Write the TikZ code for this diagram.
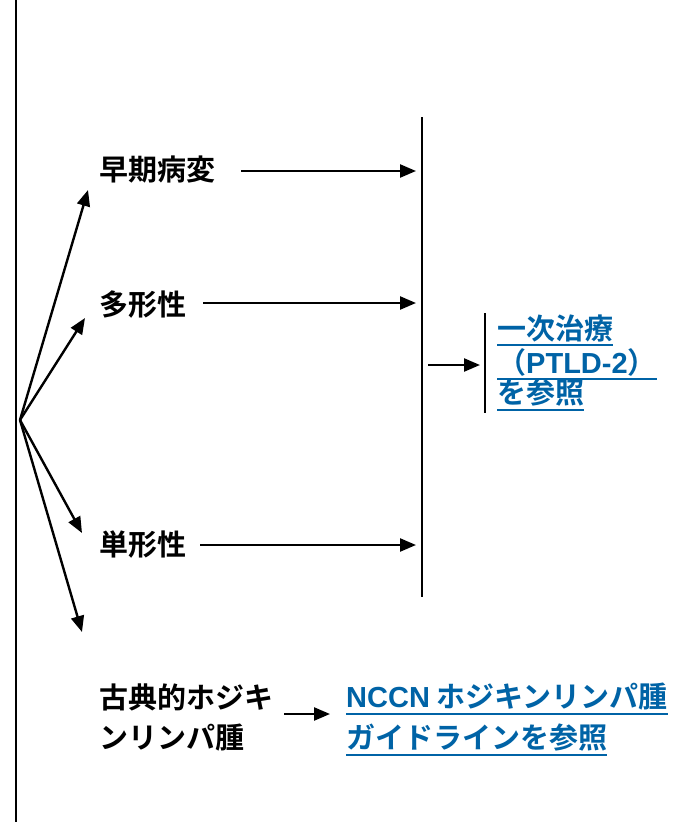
\documentclass[tikz,border=0pt]{standalone}
\usepackage{fontspec}
\setmainfont{Liberation Sans}
\newfontfamily\jp{Noto Sans CJK JP}[BoldFont=* Bold]
\usetikzlibrary{arrows.meta}
\definecolor{linkblue}{RGB}{0,99,166}
\begin{document}
\begin{tikzpicture}[x=1pt,y=-1pt,
  lbl/.style={font=\jp\bfseries\fontsize{29}{32}\selectfont, anchor=west, inner sep=0pt},
  lnk/.style={lbl, text=linkblue},
  arr/.style={-{Triangle[length=16pt,width=13pt]}, line width=2.4pt},
  rule/.style={line width=2.4pt},
  ul/.style={linkblue, line width=2.2pt}]
\useasboundingbox (0,0) rectangle (692,825);
% main vertical line
\coordinate (Ltop) at (16,0);
\coordinate (Lbot) at (16,822);
\draw[rule] (Ltop) -- (Lbot);
% fan origin
\coordinate (O) at (20,420);
% labels
\node[lbl] (early) at (99,170) {早期病変};
\node[lbl] (poly) at (99,305) {多形性};
\node[lbl] (mono) at (99,545) {単形性};
\node[lbl] (chl1) at (99,697) {古典的ホジキ};
\node[lbl] (chl2) at (99,738) {ンリンパ腫};
% fan arrows ends
\coordinate (fe) at (88,190);
\coordinate (fp) at (85,318);
\coordinate (fm) at (82,533);
\coordinate (fc) at (82,632);
\draw[arr] (O) -- (fe);
\draw[arr] (O) -- (fp);
\draw[arr] (O) -- (fm);
\draw[arr] (O) -- (fc);
% collecting bar
\coordinate (Vt) at (422,117);
\coordinate (Vb) at (422,597);
\draw[rule] (Vt) -- (Vb);
\coordinate (ee) at (241,171);
\coordinate (pe) at (203,303);
\coordinate (me) at (200,545);
\draw[arr, shorten >=6pt] (ee) -- (ee -| Vt);
\draw[arr, shorten >=6pt] (pe) -- (pe -| Vt);
\draw[arr, shorten >=6pt] (me) -- (me -| Vt);
% right bracket and link
\coordinate (Bt) at (485,313);
\coordinate (Bb) at (485,413);
\draw[rule] (Bt) -- (Bb);
\coordinate (ms) at (428,365);
\draw[arr, shorten >=5pt] (ms) -- (ms -| Bt);
\node[lnk] (t1) at (497,328) {一次治療};
\node[lnk] (t2) at (497,362) {（{\rmfamily\bfseries PTLD-2}）};
\node[lnk] (t3) at (497,393) {を参照};
\foreach \n in {t1,t2,t3}{
  \draw[ul] ([yshift=-3pt]\n.south west) -- ([yshift=-3pt]\n.south east);
}
% bottom
\coordinate (bs) at (284,714);
\node[lnk] (n1) at (346,697) {{\rmfamily\bfseries NCCN} ホジキンリンパ腫};
\node[lnk] (n2) at (346,738) {ガイドラインを参照};
\draw[arr, shorten >=16pt] (bs) -- (bs -| n1.west);
\foreach \n in {n1,n2}{
  \draw[ul] ([yshift=-3pt]\n.south west) -- ([yshift=-3pt]\n.south east);
}
\end{tikzpicture}
\end{document}
